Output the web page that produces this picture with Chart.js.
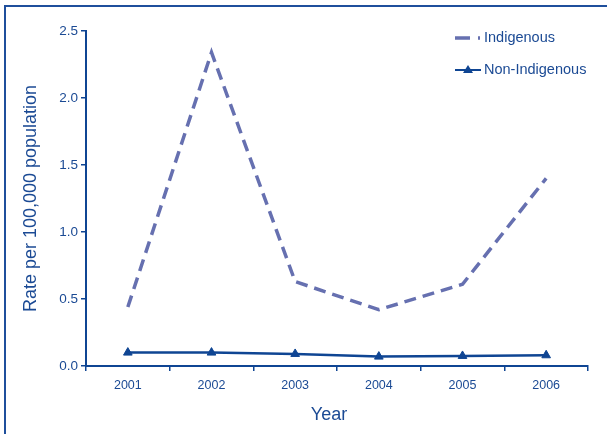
<!DOCTYPE html>
<html>
<head>
<meta charset="utf-8">
<title>Rate per 100,000 population</title>
<script src="https://cdn.jsdelivr.net/npm/chart.js@4"></script>
<style>
  html, body { margin: 0; padding: 0; background: #fff; }
  #wrap { position: relative; width: 607px; height: 434px; overflow: hidden; }
  #frame {
    position: absolute; left: 4px; top: 5px; width: 700px; height: 500px;
    border-left: 2px solid #1f4f9c; border-top: 2px solid #1f4f9c;
  }
  canvas { position: absolute; left: 0; top: 0; }
</style>
</head>
<body>
<div id="wrap">
  <canvas id="myChart" width="607" height="434"></canvas>
  <div id="frame"></div>
</div>
<script>
const years = ["2001", "2002", "2003", "2004", "2005", "2006"];
const indigenous = [0.44, 2.34, 0.63, 0.42, 0.61, 1.40];
const nonIndigenous = [0.10, 0.10, 0.09, 0.07, 0.075, 0.08];
const seriesNames = ["Indigenous", "Non-Indigenous"];

const NAVY = "#0f4593";
const TEXT = "#1b4a94";
const DASH = "#6670b0";
const FONT = "'Liberation Sans', Arial, sans-serif";

// Leyenda a la derecha y título del eje X dibujados a mano
const extras = {
    id: "extras",
    afterDraw(chart) {
        const ctx = chart.ctx;
        const area = chart.chartArea;
        const x0 = area.right - 133;
        const tx = area.right - 104;
        ctx.save();

        // Indigenous: muestra de línea discontinua
        ctx.strokeStyle = DASH;
        ctx.lineWidth = 3.5;
        ctx.setLineDash([15, 8, 2, 100]);
        ctx.beginPath();
        ctx.moveTo(x0, 38);
        ctx.lineTo(x0 + 26, 38);
        ctx.stroke();
        ctx.setLineDash([]);

        // Non-Indigenous: línea con triángulo
        ctx.strokeStyle = NAVY;
        ctx.lineWidth = 2;
        ctx.beginPath();
        ctx.moveTo(x0, 70);
        ctx.lineTo(x0 + 26, 70);
        ctx.stroke();
        ctx.fillStyle = NAVY;
        ctx.beginPath();
        ctx.moveTo(x0 + 13, 65);
        ctx.lineTo(x0 + 18, 73);
        ctx.lineTo(x0 + 8, 73);
        ctx.closePath();
        ctx.fill();

        ctx.fillStyle = TEXT;
        ctx.font = "14.5px " + FONT;
        ctx.textBaseline = "middle";
        ctx.textAlign = "left";
        ctx.fillText(seriesNames[0], tx, 38);
        ctx.fillText(seriesNames[1], tx, 70);

        // Título del eje X
        ctx.font = "18px " + FONT;
        ctx.textAlign = "center";
        ctx.fillText("Year", area.left + 243, 415);
        ctx.restore();
    }
};

const ctx = document.getElementById("myChart").getContext("2d");
const chart = new Chart(ctx, {
    type: "line",
    data: {
        labels: years,
        datasets: [
            {
                label: seriesNames[0],
                data: indigenous,
                borderColor: DASH,
                backgroundColor: DASH,
                borderWidth: 3.5,
                borderDash: [12, 7],
                pointRadius: 0,
                tension: 0
            },
            {
                label: seriesNames[1],
                data: nonIndigenous,
                borderColor: NAVY,
                backgroundColor: NAVY,
                borderWidth: 2.5,
                pointStyle: "triangle",
                pointRadius: 5,
                pointBorderWidth: 1,
                tension: 0
            }
        ]
    },
    options: {
        responsive: false,
        animation: false,
        layout: { padding: { top: 31, right: 19, left: 0, bottom: 0 } },
        plugins: {
            legend: { display: false },
            tooltip: { enabled: false }
        },
        scales: {
            x: {
                offset: true,
                grid: {
                    offset: true,
                    drawOnChartArea: false,
                    drawTicks: true,
                    tickLength: 5,
                    color: NAVY,
                    lineWidth: 1.5
                },
                border: { color: NAVY, width: 2 },
                ticks: {
                    color: TEXT,
                    font: { family: FONT, size: 12.5 },
                    padding: 7
                },
                afterFit(scale) { scale.height = 68; }
            },
            y: {
                min: 0,
                max: 2.5,
                grid: {
                    drawOnChartArea: false,
                    drawTicks: true,
                    tickLength: 5,
                    color: NAVY,
                    lineWidth: 1.5
                },
                border: { color: NAVY, width: 2 },
                ticks: {
                    stepSize: 0.5,
                    color: TEXT,
                    font: { family: FONT, size: 13.5 },
                    padding: 3,
                    callback: value => value.toFixed(1)
                },
                title: {
                    display: true,
                    text: "Rate per 100,000 population",
                    color: TEXT,
                    font: { family: FONT, size: 18 },
                    padding: { top: 20, bottom: 0 }
                },
                afterFit(scale) { scale.width = 86; }
            }
        }
    },
    plugins: [extras]
});
</script>
</body>
</html>
